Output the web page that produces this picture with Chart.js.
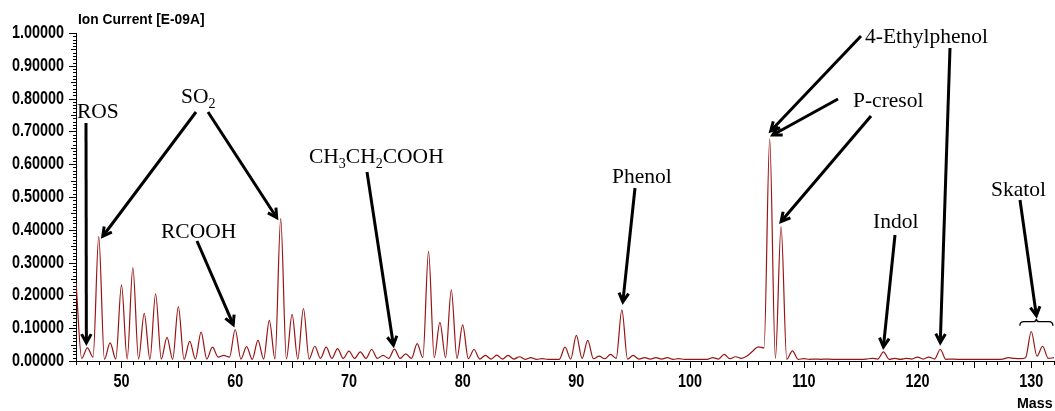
<!DOCTYPE html>
<html><head><meta charset="utf-8">
<script src="https://cdn.jsdelivr.net/npm/chart.js@4.4.1/dist/chart.umd.min.js"></script>
<style>html,body{margin:0;padding:0;background:#fff;overflow:hidden}#wrap{position:relative;width:1055px;height:411px}</style>
</head><body><div id="wrap"><canvas id="c" width="1055" height="411"></canvas></div>
<script>
// ---- data ----
const masses = [46,47,48,49,50,51,52,53,54,55,56,57,58,59,60,61,62,63,64,65,66,67,68,69,70,71,72,73,74,75,76,77,78,79,80,81,82,83,84,85,86,87,88,89,90,91,92,93,94,95,96,97,98,99,100,101,102,103,104,105,106,107,108,109,110,111,112,113,114,115,116,117,118,119,120,121,122,123,124,125,126,127,128,129,130,131,132];
const peakIntensity = [0.240,0.040,0.380,0.055,0.232,0.285,0.145,0.205,0.072,0.166,0.060,0.088,0.042,0.017,0.096,0.044,0.063,0.124,0.434,0.142,0.160,0.045,0.042,0.038,0.030,0.028,0.035,0.017,0.036,0.022,0.053,0.334,0.118,0.217,0.110,0.035,0.017,0.018,0.017,0.013,0.010,0.007,0.005,0.042,0.078,0.063,0.015,0.020,0.156,0.017,0.010,0.010,0.010,0.007,0.005,0.005,0.010,0.020,0.013,0.015,0.043,0.677,0.410,0.031,0.007,0.006,0.006,0.005,0.005,0.005,0.008,0.028,0.008,0.008,0.012,0.012,0.035,0.006,0.005,0.005,0.005,0.005,0.010,0.007,0.090,0.045,0.010];
// minima between neighbouring masses (at mass + 0.5)
const valleyIntensity = [0.008,0.012,0.005,0.006,0.006,0.006,0.005,0.006,0.005,0.005,0.006,0.006,0.012,0.012,0.006,0.005,0.006,0.006,0.006,0.006,0.006,0.008,0.008,0.008,0.008,0.008,0.008,0.008,0.008,0.008,0.010,0.010,0.010,0.008,0.007,0.006,0.006,0.006,0.006,0.005,0.005,0.005,0.005,0.006,0.008,0.007,0.007,0.008,0.006,0.006,0.006,0.006,0.005,0.005,0.005,0.005,0.006,0.007,0.008,0.030,0.040,0.008,0.005,0.005,0.005,0.005,0.005,0.005,0.005,0.006,0.006,0.005,0.005,0.006,0.006,0.006,0.005,0.005,0.005,0.005,0.005,0.006,0.008,0.010,0.015,0.008];
const xTickValues = [50,60,70,80,90,100,110,120,130];
const yTickValues = [0,0.1,0.2,0.3,0.4,0.5,0.6,0.7,0.8,0.9,1.0];
const yTickLabels = ['0.00000','0.10000','0.20000','0.30000','0.40000','0.50000','0.60000','0.70000','0.80000','0.90000','1.00000'];

const points = [];
masses.forEach((m,i)=>{
  points.push({x:m, y:peakIntensity[i]});
  if (i < valleyIntensity.length) points.push({x:m+0.5, y:valleyIntensity[i]});
});

const SANS = '"Liberation Sans",Arial,sans-serif';
const SERIF = '"Liberation Serif","Times New Roman",serif';

// annotation layout (pixel anchors for label text and arrow tails; arrow tips follow the data)
const notes = [
  {text:[['ROS']], x:77, y:118, arrows:[{from:[86,123], mass:47, lift:5, dx:-1}]},
  {text:[['SO'],['2',1]], x:181, y:103, arrows:[{from:[196,112], mass:48, lift:0, dx:4},{from:[208,112], mass:64, lift:1, dx:-4}]},
  {text:[['RCOOH']], x:161, y:238, arrows:[{from:[197,241], mass:60, lift:5, dx:-2}]},
  {text:[['CH'],['3',1],['CH'],['2',1],['COOH']], x:309, y:163, arrows:[{from:[367,172], mass:74, lift:4, dx:-1}]},
  {text:[['Phenol']], x:612, y:183, arrows:[{from:[635,188], mass:94, lift:8, dx:1}]},
  {text:[['4-Ethylphenol']], x:865, y:43, arrows:[{from:[861,36], mass:107, lift:8, dx:1},{from:[950,48], mass:122, lift:7}]},
  {text:[['P-cresol']], x:853, y:107, arrows:[{from:[838,99], mass:107, lift:4, dx:3},{from:[871,116], mass:108, lift:5}]},
  {text:[['Indol']], x:873, y:228, arrows:[{from:[895,235], mass:117, lift:5}]},
  {text:[['Skatol']], x:991, y:196, brace:{from:129, to:131.9, level:0.12}, arrows:[{from:[1020,200], brace:true}]}
];

function drawRich(ctx, parts, x, y){
  let cx = x;
  parts.forEach(([t, sub])=>{
    ctx.font = (sub ? '14px ' : '21.5px ') + SERIF;
    ctx.fillText(t, cx, sub ? y + 5 : y);
    cx += ctx.measureText(t).width;
  });
}
function narrowText(ctx, text, x, y, size, sx, align){
  ctx.save();
  ctx.translate(x, y); ctx.scale(sx, 1);
  ctx.font = 'bold ' + size + 'px ' + SANS;
  ctx.textAlign = align; ctx.textBaseline = 'middle';
  ctx.fillText(text, 0, 0);
  ctx.restore();
}
function arrow(ctx, x1, y1, x2, y2){
  ctx.lineWidth = 3; ctx.strokeStyle = '#000'; ctx.lineCap = 'butt'; ctx.lineJoin = 'miter';
  const a = Math.atan2(y2-y1, x2-x1);
  ctx.beginPath(); ctx.moveTo(x1,y1); ctx.lineTo(x2-2*Math.cos(a), y2-2*Math.sin(a)); ctx.stroke();
  const h = 10, w = 0.5;
  ctx.beginPath();
  ctx.moveTo(x2-h*Math.cos(a-w), y2-h*Math.sin(a-w));
  ctx.lineTo(x2, y2);
  ctx.lineTo(x2-h*Math.cos(a+w), y2-h*Math.sin(a+w));
  ctx.stroke();
}

const decor = {
  id:'decor',
  afterDraw(chart){
    const ctx = chart.ctx, xs = chart.scales.x, ys = chart.scales.y;
    const bottom = ys.bottom, left = xs.left;
    ctx.save();
    ctx.strokeStyle = '#000'; ctx.lineWidth = 1;
    for (let m = Math.ceil(xs.min); m <= xs.max; m++){
      const px = Math.round(xs.getPixelForValue(m)) + 0.5;
      const len = m % 5 === 0 ? 7 : 4;
      ctx.beginPath(); ctx.moveTo(px, bottom); ctx.lineTo(px, bottom + len); ctx.stroke();
    }
    for (let k = 0; k <= 100; k++){
      const py = Math.round(ys.getPixelForValue(k/100)) + 0.5;
      const len = k % 10 === 0 ? 7 : (k % 5 === 0 ? 5 : 3);
      ctx.beginPath(); ctx.moveTo(left - len, py); ctx.lineTo(left, py); ctx.stroke();
    }
    // tick labels (narrow bold, like the instrument software)
    ctx.fillStyle = '#000';
    yTickValues.forEach((v,i)=> narrowText(ctx, yTickLabels[i], 64, ys.getPixelForValue(v), 18, 0.8, 'right'));
    xTickValues.forEach(v=> narrowText(ctx, String(v), xs.getPixelForValue(v), bottom + 21, 18, 0.8, 'center'));
    // axis titles
    narrowText(ctx, 'Ion Current [E-09A]', 78, 20, 15, 0.92, 'left');
    narrowText(ctx, 'Mass', 1017, 404, 15, 0.95, 'left');
    // annotations
    ctx.textAlign = 'left'; ctx.textBaseline = 'alphabetic';
    notes.forEach(n=>{
      ctx.fillStyle = '#000';
      drawRich(ctx, n.text, n.x, n.y);
      let braceTip = null;
      if (n.brace){
        const bx1 = xs.getPixelForValue(n.brace.from), bx2 = xs.getPixelForValue(n.brace.to);
        const by = ys.getPixelForValue(n.brace.level), bm = (bx1+bx2)/2;
        ctx.lineWidth = 1.3; ctx.strokeStyle = '#000';
        ctx.beginPath();
        ctx.moveTo(bx1, by+4);
        ctx.quadraticCurveTo(bx1, by, bx1+4, by);
        ctx.lineTo(bm-3, by);
        ctx.quadraticCurveTo(bm, by, bm, by-3);
        ctx.quadraticCurveTo(bm, by, bm+3, by);
        ctx.lineTo(bx2-4, by);
        ctx.quadraticCurveTo(bx2, by, bx2, by+4);
        ctx.stroke();
        braceTip = [bm, by-6];
      }
      n.arrows.forEach(a=>{
        let tx, ty;
        if (a.brace){ [tx, ty] = braceTip; }
        else {
          const i = masses.indexOf(a.mass);
          tx = xs.getPixelForValue(a.mass) + (a.dx||0);
          ty = ys.getPixelForValue(peakIntensity[i]) - a.lift;
        }
        arrow(ctx, a.from[0], a.from[1], tx, ty);
      });
    });
    ctx.restore();
  }
};

new Chart(document.getElementById('c'), {
  type:'line',
  data:{datasets:[{
    data:points, parsing:false,
    borderColor:'#9a1414', borderWidth:1.2, pointRadius:0,
    cubicInterpolationMode:'monotone', fill:false
  }]},
  options:{
    responsive:false, animation:false, devicePixelRatio:1,
    layout:{padding:{top:33, right:1, left:0, bottom:0}},
    plugins:{legend:{display:false}, tooltip:{enabled:false}, title:{display:false}},
    scales:{
      x:{type:'linear', min:46, max:132,
        afterFit(s){ s.height = 50; },
        ticks:{display:false, stepSize:1},
        grid:{display:false},
        border:{display:true, color:'#000', width:1}
      },
      y:{type:'linear', min:0, max:1,
        afterFit(s){ s.width = 76; },
        ticks:{display:false, stepSize:0.1},
        grid:{display:false},
        border:{display:true, color:'#000', width:1}
      }
    }
  },
  plugins:[decor]
});
</script>
</body></html>
